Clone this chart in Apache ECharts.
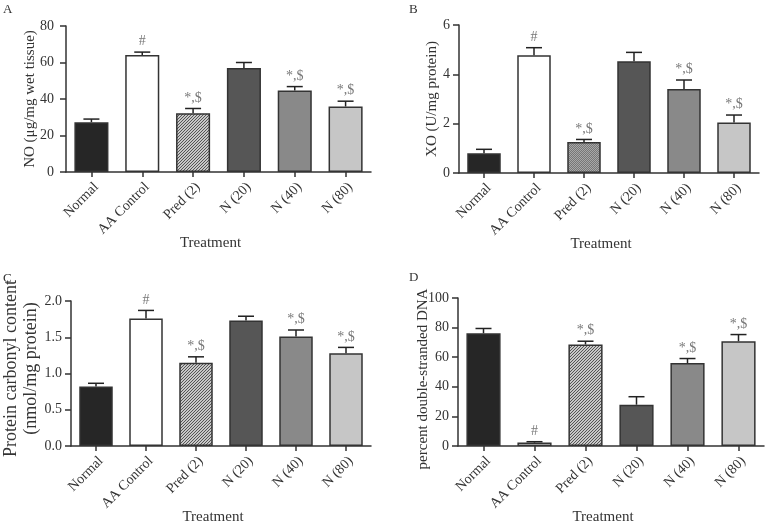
<!DOCTYPE html>
<html>
<head>
<meta charset="utf-8">
<script src="https://cdn.jsdelivr.net/npm/echarts@6/dist/echarts.min.js"></script>
<style>
html,body{margin:0;padding:0;background:#fff;}
#c{width:768px;height:526px;}
</style>
</head>
<body>
<div id="c"></div>
<script>
// ---- data ----
const categories = ['Normal', 'AA Control', 'Pred (2)', 'N (20)', 'N (40)', 'N (80)'];
const noMean  = [27.3, 64.1, 32.2, 57.0, 44.6, 35.9];
const noErr   = [1.7, 1.6, 2.6, 3.0, 2.2, 2.9];
const xoMean  = [0.80, 4.77, 1.26, 4.53, 3.41, 2.05];
const xoErr   = [0.16, 0.31, 0.10, 0.36, 0.36, 0.30];
const pcMean  = [0.82, 1.76, 1.15, 1.73, 1.51, 1.28];
const pcErr   = [0.045, 0.11, 0.08, 0.06, 0.09, 0.08];
const dnaMean = [76.2, 2.3, 68.6, 27.9, 56.0, 70.8];
const dnaErr  = [3.2, 0.6, 2.2, 5.4, 3.1, 4.5];
const annotA = ['', '#', '*,$', '', '*,$', '*,$'];
const annotB = ['', '#', '*,$', '', '*,$', '*,$'];
const annotC = ['', '#', '*,$', '', '*,$', '*,$'];
const annotD = ['', '#', '*,$', '', '*,$', '*,$'];
const yTicksA = [0, 80, 20];
const yTicksB = [0, 6, 2];
const yTicksC = [0, 2, 0.5];
const yTicksD = [0, 100, 20];

// ---- style ----
const FONT = 'Liberation Serif';
const TXT = '#333';
function hatch(bg, fg, step) {
  const c = document.createElement('canvas');
  c.width = step; c.height = step;
  const g = c.getContext('2d');
  g.fillStyle = bg; g.fillRect(0, 0, step, step);
  g.strokeStyle = fg; g.lineWidth = 1;
  g.beginPath();
  g.moveTo(-1, step + 1); g.lineTo(step + 1, -1);
  g.moveTo(-1, 1); g.lineTo(1, -1);
  g.moveTo(step - 1, step + 1); g.lineTo(step + 1, step - 1);
  g.stroke();
  return { image: c, repeat: 'repeat' };
}
const patDark = hatch('#c8c8c8', '#555', 3);
const patB = hatch('#a8a8a8', '#777', 2);
function colorsFor(pat) { return ['#262626', '#ffffff', pat, '#565656', '#898989', '#c6c6c6']; }

const panels = [
  { mean: noMean, err: noErr, ann: annotA, yt: yTicksA, grid: {left: 66, top: 26, width: 305, height: 146}, name: 'NO (μg/mg wet tissue)', nameGap: 27, nameSize: 15, namePad: [0, 0, 0, 0], lblMargin: 12, pat: patDark, dec: 0 },
  { mean: xoMean, err: xoErr, ann: annotB, yt: yTicksB, grid: {left: 459, top: 25, width: 300, height: 148}, name: 'XO (U/mg protein)', nameGap: 18, nameSize: 15, namePad: [0, 0, 0, 0], lblMargin: 9, pat: patB, dec: 0 },
  { mean: pcMean, err: pcErr, ann: annotC, yt: yTicksC, grid: {left: 70, top: 301, width: 301, height: 145}, name: 'Protein carbonyl content\n(nmol/mg protein)', nameGap: 30, nameSize: 18, namePad: [0, 0, 0, 10], lblMargin: 9, pat: patDark, dec: 1 },
  { mean: dnaMean, err: dnaErr, ann: annotD, yt: yTicksD, grid: {left: 458, top: 298, width: 306, height: 149}, name: 'percent double-stranded DNA', nameGap: 26, nameSize: 15, namePad: [0, 14, 0, 0], lblMargin: 9, pat: patDark, dec: 0 }
];

const grid = [], xAxis = [], yAxis = [], series = [];
panels.forEach((p, k) => {
  grid.push(p.grid);
  xAxis.push({
    type: 'category', gridIndex: k, data: categories,
    name: 'Treatment', nameLocation: 'middle', nameGap: 64, nameMoveOverlap: false,
    nameTextStyle: { fontFamily: FONT, fontSize: 15, color: TXT, padding: [0, 16, 0, 0] },
    axisLine: { lineStyle: { color: '#333', width: 1.5 } },
    axisTick: { show: true, alignWithLabel: true, length: 5, lineStyle: { color: '#333', width: 1.5 } },
    axisLabel: { rotate: 45, interval: 0, margin: 8, verticalAlign: 'top', fontFamily: FONT, fontSize: 14, color: TXT }
  });
  yAxis.push({
    type: 'value', gridIndex: k, min: p.yt[0], max: p.yt[1], interval: p.yt[2],
    name: p.name, nameLocation: 'middle', nameGap: p.nameGap, nameMoveOverlap: false,
    nameTextStyle: { fontFamily: FONT, fontSize: p.nameSize, color: TXT, lineHeight: p.nameSize + 2, padding: p.namePad },
    splitLine: { show: false },
    axisLine: { show: true, lineStyle: { color: '#333', width: 1.5 } },
    axisTick: { show: true, length: 6, lineStyle: { color: '#333', width: 1.5 } },
    axisLabel: { margin: p.lblMargin, fontFamily: FONT, fontSize: 14, color: TXT,
      formatter: v => v.toFixed(p.dec) }
  });
  const cols = colorsFor(p.pat);
  series.push({
    type: 'bar', xAxisIndex: k, yAxisIndex: k, barWidth: '67%',
    data: p.mean.map((v, i) => ({ value: v, itemStyle: { color: cols[i] } })),
    itemStyle: { borderColor: '#333', borderWidth: 1.5 },
    silent: true, animation: false
  });
  series.push({
    type: 'custom', xAxisIndex: k, yAxisIndex: k, z: 5, silent: true, animation: false,
    data: p.mean.map((v, i) => [i, v, v + p.err[i]]),
    renderItem: (params, api) => {
      const a = api.coord([api.value(0), api.value(1)]);
      const b = api.coord([api.value(0), api.value(2)]);
      const hw = 8;
      return { type: 'group', children: [
        { type: 'line', shape: { x1: a[0], y1: a[1], x2: b[0], y2: b[1] }, style: { stroke: '#222', lineWidth: 1.5 } },
        { type: 'line', shape: { x1: b[0] - hw, y1: b[1], x2: b[0] + hw, y2: b[1] }, style: { stroke: '#222', lineWidth: 1.5 } }
      ]};
    }
  });
  series.push({
    type: 'scatter', xAxisIndex: k, yAxisIndex: k, symbolSize: 1, silent: true, animation: false,
    itemStyle: { color: 'rgba(0,0,0,0)' },
    data: p.mean.map((v, i) => ({ value: [i, v + p.err[i]], label: { formatter: p.ann[i] } })),
    label: { show: true, position: 'top', distance: 3, fontFamily: FONT, fontSize: 14, color: '#555' }
  });
});

const letters = [['A', 3, 3], ['B', 409, 3], ['C', 3, 272], ['D', 409, 271]];
const chart = echarts.init(document.getElementById('c'), null, { renderer: 'canvas' });
chart.setOption({
  backgroundColor: '#fff',
  animation: false,
  grid, xAxis, yAxis, series,
  graphic: letters.map(l => ({ type: 'text', left: l[1], top: l[2],
    style: { text: l[0], font: '13px "Liberation Serif"', fill: TXT } }))
});
</script>
</body>
</html>
